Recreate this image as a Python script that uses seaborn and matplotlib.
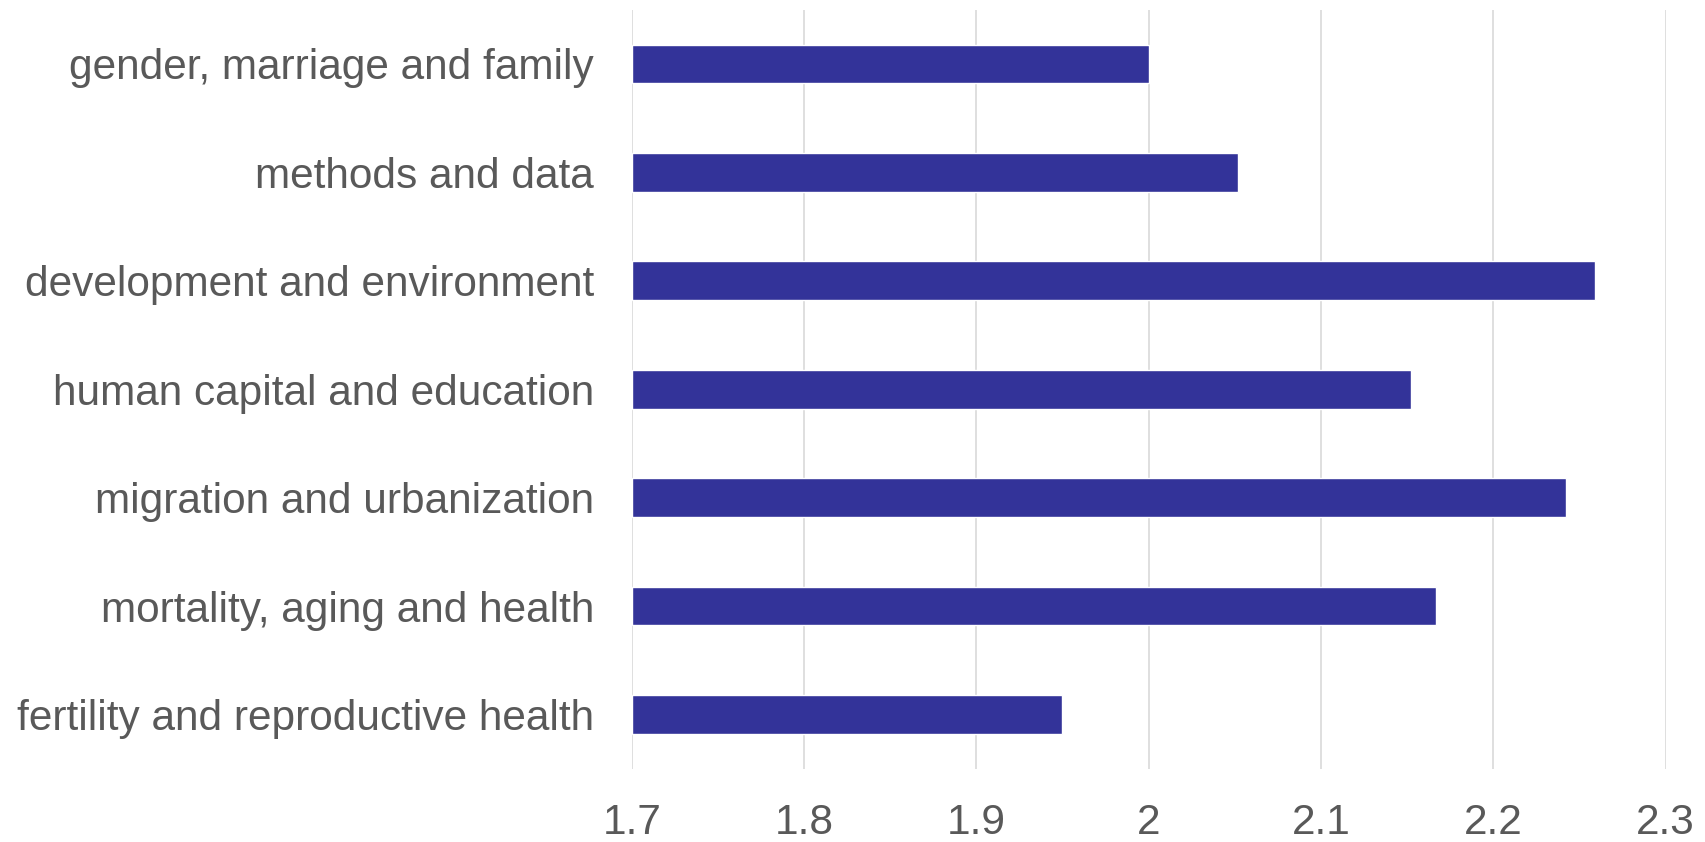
import pandas as pd
import matplotlib.pyplot as plt
import seaborn as sns

categories = ["gender, marriage and family", "methods and data", "development and environment",
              "human capital and education", "migration and urbanization",
              "mortality, aging and health", "fertility and reproductive health"]
values = [2.00, 2.052, 2.259, 2.152, 2.242, 2.167, 1.95]
xticks = [1.7, 1.8, 1.9, 2.0, 2.1, 2.2, 2.3]
xticklabels = ["1.7", "1.8", "1.9", "2", "2.1", "2.2", "2.3"]

df = pd.DataFrame({"topic": categories, "value": values})

sns.set_style("white")
plt.rcParams['font.family'] = ['Liberation Sans', 'DejaVu Sans']

fig = plt.figure(figsize=(17.06, 8.42), dpi=100)
ax = fig.add_axes([0.3703, 0.087, 0.6060, 0.9015])
sns.barplot(data=df, y="topic", x="value", orient="h", color="#333399",
            width=0.357, saturation=1, ax=ax, zorder=3)
# bars start at 1.7 like the axis
for p, v in zip(ax.patches, values):
    p.set_x(1.7)
    p.set_width(v - 1.7)

ax.set_xlim(1.7, 2.3)
ax.set_ylim(6.5, -0.5)
ax.set_xticks(xticks)
ax.set_xticklabels(xticklabels)
ax.xaxis.grid(True, color="#d9d9d9", linewidth=1.2, zorder=0)
ax.set_axisbelow(True)
for s in ax.spines.values():
    s.set_visible(False)
ax.set_xlabel("")
ax.set_ylabel("")
ax.tick_params(axis="both", length=0, labelsize=30.5, labelcolor="#595959")
ax.tick_params(axis="y", pad=27)
ax.tick_params(axis="x", pad=25)

fig.savefig("out.png", dpi=100)
